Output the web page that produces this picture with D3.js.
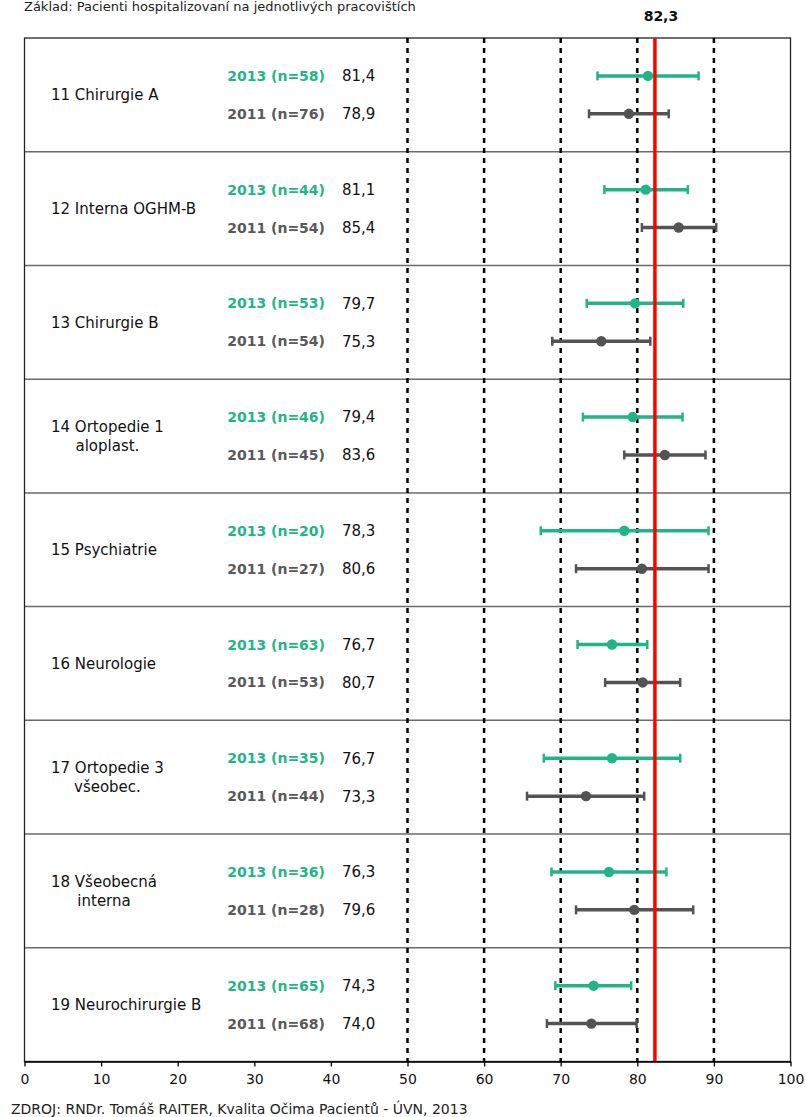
<!DOCTYPE html>
<html><head><meta charset="utf-8">
<script src="https://cdn.jsdelivr.net/npm/d3@7"></script>
<style>
html,body{margin:0;padding:0;background:#fff;}
svg{display:block;font-family:"DejaVu Sans",Verdana,sans-serif;}
</style></head>
<body>
<svg id="chart" width="806" height="1117"></svg>
<script>
const categories = ["11 Chirurgie A","12 Interna OGHM-B","13 Chirurgie B","14 Ortopedie 1\naloplast.","15 Psychiatrie","16 Neurologie","17 Ortopedie 3\nvšeobec.","18 Všeobecná\ninterna","19 Neurochirurgie B"];
const years = ["2013","2011"];
const n2013 = [58,44,53,46,20,63,35,36,65];
const n2011 = [76,54,54,45,27,53,44,28,68];
const mean2013 = [81.4,81.1,79.7,79.4,78.3,76.7,76.7,76.3,74.3];
const mean2011 = [78.9,85.4,75.3,83.6,80.6,80.7,73.3,79.6,74.0];
const low2013 = [74.8,75.7,73.4,72.9,67.4,72.2,67.8,68.8,69.3];
const high2013 = [88.0,86.6,86.0,85.9,89.3,81.3,85.6,83.8,79.2];
const low2011 = [73.7,80.6,68.9,78.3,72.0,75.8,65.6,72.0,68.2];
const high2011 = [84.1,90.3,81.7,88.9,89.3,85.6,80.9,87.3,79.9];
const overall = 82.3;
const refLines = [50,60,70,80,90];
const xTicks = [0,10,20,30,40,50,60,70,80,90,100];
const subtitle = "Základ: Pacienti hospitalizovaní na jednotlivých pracovištích";
const source = "ZDROJ: RNDr. Tomáš RAITER, Kvalita Očima Pacientů - ÚVN, 2013";

const colors = {"2013":"#1fb587","2011":"#535353"};
const labelColors = {"2013":"#1fb587","2011":"#595959"};
const fmt = v => d3.format(".1f")(v).replace(".", ",");

const svg = d3.select("#chart");
const pL = 24.5, pR = 790.5, pT = 38, pB = 1061.5;
const x = d3.scaleLinear().domain([0,100]).range([pL,pR]);
const y = d3.scaleBand().domain(categories).range([pT,pB]).padding(0);
const yy = d3.scalePoint().domain(years).range([0,y.bandwidth()]).padding(1);

const series = {
  "2013": categories.map((c,i)=>({cat:c, n:n2013[i], mean:mean2013[i], lo:low2013[i], hi:high2013[i]})),
  "2011": categories.map((c,i)=>({cat:c, n:n2011[i], mean:mean2011[i], lo:low2011[i], hi:high2011[i]}))
};

svg.append("text").attr("x",24).attr("y",11).attr("font-size",13).attr("fill","#222").text(subtitle);

svg.append("g").selectAll("line").data(categories.slice(1)).join("line")
  .attr("x1",pL).attr("x2",pR)
  .attr("y1",d=>y(d)).attr("y2",d=>y(d))
  .attr("stroke","#6a6a6a").attr("stroke-width",1.5);

svg.append("rect").attr("x",pL).attr("y",pT).attr("width",pR-pL).attr("height",pB-pT)
  .attr("fill","none").attr("stroke","#222").attr("stroke-width",1.3);

svg.append("g").selectAll("line").data(refLines).join("line")
  .attr("x1",d=>x(d)).attr("x2",d=>x(d)).attr("y1",pT).attr("y2",pB)
  .attr("stroke","#000").attr("stroke-width",2.5).attr("stroke-dasharray","5,5");

years.forEach(yr=>{
  const g = svg.append("g");
  const rows = g.selectAll("g").data(series[yr]).join("g")
    .attr("transform",d=>`translate(0,${y(d.cat)+yy(yr)})`);
  rows.append("line").attr("x1",d=>x(d.lo)).attr("x2",d=>x(d.hi)).attr("y1",0).attr("y2",0)
    .attr("stroke",colors[yr]).attr("stroke-width",3.5);
  rows.append("line").attr("x1",d=>x(d.lo)).attr("x2",d=>x(d.lo)).attr("y1",-4.5).attr("y2",4.5)
    .attr("stroke",colors[yr]).attr("stroke-width",2.5);
  rows.append("line").attr("x1",d=>x(d.hi)).attr("x2",d=>x(d.hi)).attr("y1",-4.5).attr("y2",4.5)
    .attr("stroke",colors[yr]).attr("stroke-width",2.5);
  rows.append("circle").attr("cx",d=>x(d.mean)).attr("cy",0).attr("r",5.2).attr("fill",colors[yr]);
  rows.append("text").attr("x",325).attr("y",0).attr("dy","0.36em").attr("text-anchor","end")
    .attr("font-size",14).attr("font-weight","bold").attr("fill",labelColors[yr])
    .text(d=>`${yr} (n=${d.n})`);
  rows.append("text").attr("x",342).attr("y",0).attr("dy","0.36em")
    .attr("font-size",15).attr("fill","#111").text(d=>fmt(d.mean));
});

svg.append("line").attr("x1",x(overall)).attr("x2",x(overall)).attr("y1",pT).attr("y2",pB)
  .attr("stroke","#ff0000").attr("stroke-width",3.5);
svg.append("text").attr("x",x(overall)+6).attr("y",16).attr("dy","0.36em").attr("text-anchor","middle")
  .attr("font-size",14).attr("font-weight","bold").attr("fill","#111").text(fmt(overall));

const catG = svg.append("g").selectAll("g").data(categories).join("g")
  .attr("transform",d=>`translate(51,${y(d)+y.bandwidth()/2})`);
catG.each(function(d){
  const lines = d.split("\n");
  const g = d3.select(this);
  const lh = 19;
  const t0 = g.append("text").attr("x",0).attr("y",-(lines.length-1)*lh/2).attr("dy","0.36em")
    .attr("font-size",15).attr("fill","#111").text(lines[0]);
  if(lines.length>1){
    const w = t0.node().getComputedTextLength();
    for(let i=1;i<lines.length;i++){
      g.append("text").attr("x",w/2).attr("y",-(lines.length-1)*lh/2+i*lh).attr("dy","0.36em")
        .attr("text-anchor","middle").attr("font-size",15).attr("fill","#111").text(lines[i]);
    }
  }
});

const ax = svg.append("g").attr("transform",`translate(0,${pB})`)
  .call(d3.axisBottom(x).tickValues(xTicks).tickSize(5).tickSizeOuter(0).tickFormat(d=>d));
ax.select(".domain").attr("stroke","#000").attr("stroke-width",1.3);
ax.selectAll(".tick line").attr("stroke","#000").attr("stroke-width",1.3);
ax.selectAll(".tick text").attr("font-family","DejaVu Sans, Verdana, sans-serif").attr("font-size",14).attr("fill","#111").attr("y",13);

svg.append("text").attr("x",11).attr("y",1109).attr("dy","0.36em").attr("font-size",14).attr("fill","#222").text(source);
</script>
</body></html>
